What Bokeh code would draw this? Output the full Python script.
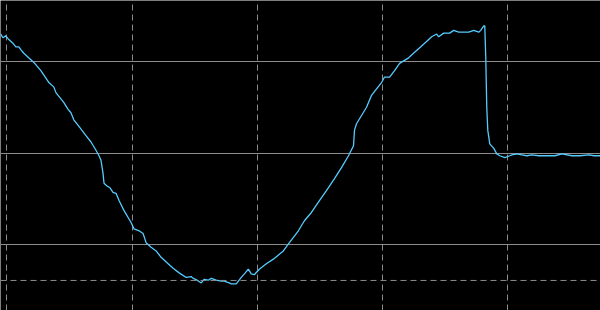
from bokeh.plotting import figure
from bokeh.models import Range1d, Grid, FixedTicker, Span
from bokeh.embed import file_html
from bokeh.resources import INLINE

# time (sample units) and signal level (gridline units)
t = [-6, -4, -1, 2, 6, 9, 12, 14, 17, 24, 27, 34, 42, 47, 49, 57, 61, 64, 67, 72,
     79, 84, 89, 92, 94, 96, 97, 100, 103, 106, 109, 112, 117, 124, 127, 132, 136, 139, 144, 149,
     154, 161, 166, 172, 179, 184, 186, 190, 194, 197, 201, 204, 209, 214, 217, 222, 224, 229, 234, 238,
     241, 244, 247, 252, 259, 266, 276, 282, 291, 297, 304, 312, 319, 327, 334, 341, 346, 347, 349, 354,
     359, 364, 369, 374, 377, 382, 387, 392, 401, 407, 414, 417, 420, 424, 429, 431, 436, 442, 446, 451,
     457, 461, 466, 471, 473, 476, 477, 478, 479, 480, 482, 486, 489, 492, 497, 502, 504, 509, 514, 519,
     524, 531, 539, 547, 554, 564, 572, 581, 586, 592, 594]
level = [1.30, 1.26, 1.28, 1.24, 1.20, 1.16, 1.16, 1.13, 1.09, 1.02, 0.99, 0.90, 0.77, 0.72, 0.66, 0.55, 0.48, 0.44, 0.36, 0.29,
         0.19, 0.12, 0.03, -0.03, -0.08, -0.22, -0.33, -0.36, -0.38, -0.43, -0.44, -0.52, -0.63, -0.76, -0.83, -0.85, -0.88, -0.98, -1.03, -1.07,
         -1.14, -1.21, -1.26, -1.31, -1.36, -1.35, -1.37, -1.39, -1.42, -1.38, -1.39, -1.37, -1.39, -1.40, -1.40, -1.42, -1.43, -1.43, -1.36, -1.31,
         -1.27, -1.32, -1.33, -1.27, -1.21, -1.16, -1.07, -0.98, -0.85, -0.74, -0.65, -0.52, -0.41, -0.28, -0.16, -0.03, 0.08, 0.25, 0.32, 0.41,
         0.50, 0.63, 0.70, 0.77, 0.83, 0.83, 0.90, 0.98, 1.04, 1.10, 1.17, 1.20, 1.23, 1.27, 1.30, 1.27, 1.31, 1.31, 1.34, 1.32,
         1.32, 1.32, 1.34, 1.32, 1.34, 1.39, 1.39, 1.04, 0.50, 0.25, 0.10, 0.05, -0.01, -0.03, -0.05, -0.03, -0.02, -0.01, -0.02, -0.03, -0.02,
         -0.03, -0.03, -0.03, -0.01, -0.03, -0.03, -0.02, -0.03, -0.03, -0.05, -0.06]
x_ticks = [0, 125, 250, 375, 500]
y_ticks = [-1, 0, 1]
low_marker = -1.393

p = figure(width=600, height=310, output_backend="svg", toolbar_location=None,
           x_axis_location=None, y_axis_location=None,
           x_range=Range1d(-6.3, 592.5), y_range=Range1d(-1.7213, 1.6667),
           background_fill_color="black", border_fill_color="black",
           min_border=0, outline_line_color=None)

# drop the default grids; use fixed ones instead
p.center = [r for r in p.center if not isinstance(r, Grid)]

p.add_layout(Grid(dimension=0, ticker=FixedTicker(ticks=x_ticks),
                  grid_line_color="#8c8c8c", grid_line_dash="6 4", grid_line_width=1))
p.add_layout(Grid(dimension=1, ticker=FixedTicker(ticks=y_ticks),
                  grid_line_color="#8c8c8c", grid_line_width=1))
p.add_layout(Span(location=low_marker, dimension="width", line_color="#8c8c8c",
                  line_dash="6 4", line_width=1))

p.line(t, level, line_color="#55cbff", line_width=1.3)

open("out.html", "w").write(file_html(p, INLINE))
